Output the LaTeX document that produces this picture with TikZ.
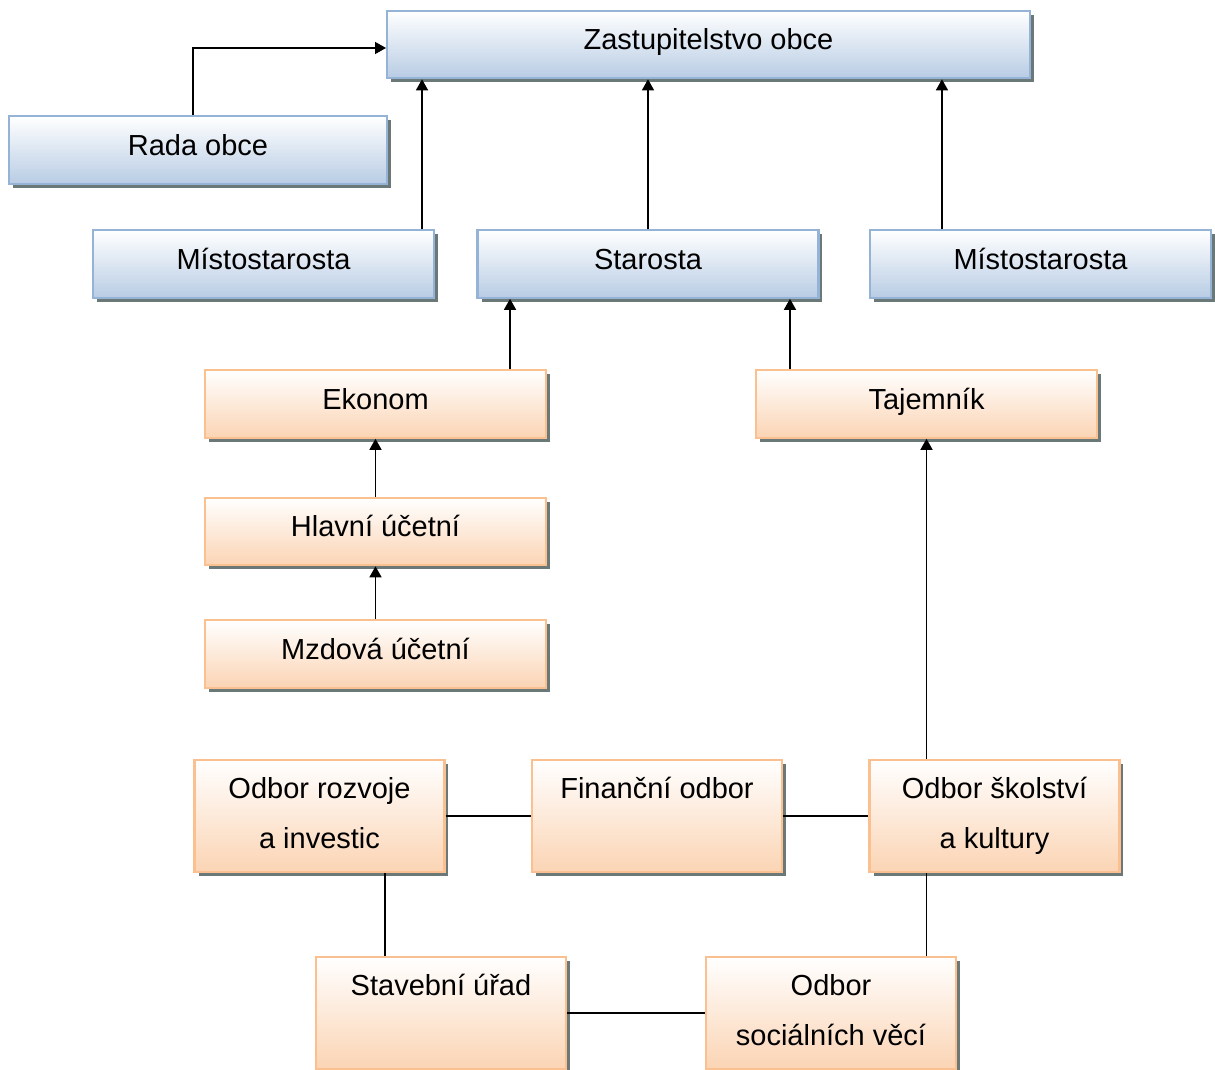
\documentclass[tikz,border=0pt]{standalone}
\usepackage{fontspec}
\setmainfont{Liberation Sans}
\usetikzlibrary{arrows.meta,shadows}
\definecolor{blueline}{HTML}{95B3D7}
\definecolor{bluefill}{HTML}{B8CCE4}
\definecolor{orangeline}{HTML}{FAC090}
\definecolor{orangefill}{HTML}{FBD4B4}
\definecolor{shadowgray}{rgb}{0.42,0.47,0.47}
\begin{document}
\begin{tikzpicture}[x=0.02cm, y=-0.02cm]

      \tikzset{box/.style={draw, line width=1.2pt, inner sep=0pt, align=center,
          font=\fontsize{16.5}{28.5}\selectfont,
          drop shadow={shadow xshift=0.08cm, shadow yshift=-0.08cm, fill=shadowgray, opacity=1}},
        bluebox/.style={box, draw=blueline, top color=white, bottom color=bluefill,
          minimum width=6.82cm, minimum height=1.35cm, text height=12pt, text depth=5.9pt},
        orangebox/.style={box, draw=orangeline, top color=white, bottom color=orangefill,
          minimum width=6.82cm, minimum height=1.35cm, text height=12pt, text depth=5.9pt},
        deptbox/.style={orangebox, minimum width=5cm, minimum height=2.24cm, text height=40.5pt, text depth=3.7pt}}
      \useasboundingbox (0,0) rectangle (1215,1070);
%% Boxes
      	\node[bluebox, minimum width=12.86cm] (zast) at (708.5,44.5) {Zastupitelstvo obce};
      	\node[bluebox, minimum width=7.56cm] (rada) at (198,150) {Rada obce};
      	\node[bluebox] (mist1) at (263.5,264) {Místostarosta};
      	\node[bluebox] (starosta) at (648,264) {Starosta};
      	\node[bluebox] (mist2) at (1040.5,264) {Místostarosta};
      	\node[orangebox] (ekonom) at (375.5,404) {Ekonom};
      	\node[orangebox] (tajemnik) at (926.5,404) {Tajemník};
      	\node[orangebox] (hlavni) at (375.5,531.5) {Hlavní účetní};
      	\node[orangebox] (mzdova) at (375.5,654) {Mzdová účetní};
      	\node[deptbox] (rozvoj) at (319.5,816) {Odbor rozvoje\\a investic};
      	\node[deptbox] (financni) at (657,816) {Finanční odbor\\\phantom{Ag}};
      	\node[deptbox] (skolstvi) at (994.5,816) {Odbor školství\\a kultury};
      	\node[deptbox] (stavebni) at (441,1013) {Stavební úřad\\\phantom{Ag}};
      	\node[deptbox] (socialni) at (831,1013) {Odbor\\sociálních věcí};
%Edges
		\draw [->, >={Triangle[length=0.22cm,width=0.24cm]}, line width=0.8pt]([xshift=-0.1cm]rada.north) |- ([yshift=-0.07cm]zast.west);
		\path [->, >={Triangle[length=0.22cm,width=0.24cm]}, line width=0.8pt]([xshift=-0.26cm]mist1.north east) edge ([xshift=-0.26cm]mist1.north east |- zast.south);
		\path [->, >={Triangle[length=0.22cm,width=0.24cm]}, line width=0.8pt](starosta.north) edge (starosta.north |- zast.south);
		\path [->, >={Triangle[length=0.22cm,width=0.24cm]}, line width=0.8pt]([xshift=1.46cm]mist2.north west) edge ([xshift=1.46cm]mist2.north west |- zast.south);
		\path [->, >={Triangle[length=0.22cm,width=0.24cm]}, line width=0.8pt]([xshift=-0.74cm]ekonom.north east) edge ([xshift=-0.74cm]ekonom.north east |- starosta.south);
		\path [->, >={Triangle[length=0.22cm,width=0.24cm]}, line width=0.8pt]([xshift=0.7cm]tajemnik.north west) edge ([xshift=0.7cm]tajemnik.north west |- starosta.south);
		\path [->, >={Triangle[length=0.22cm,width=0.24cm]}, line width=0.8pt](hlavni) edge (ekonom);
		\path [->, >={Triangle[length=0.22cm,width=0.24cm]}, line width=0.8pt](mzdova) edge (hlavni);
		\path [->, >={Triangle[length=0.22cm,width=0.24cm]}, line width=0.8pt](skolstvi.north -| tajemnik.south) edge (tajemnik.south);
		\path [line width=0.8pt](rozvoj) edge (financni);
		\path [line width=0.8pt](financni) edge (skolstvi);
		\path [line width=0.8pt]([xshift=1.4cm]stavebni.north west) edge ([xshift=1.4cm]stavebni.north west |- rozvoj.south);
		\path [line width=0.8pt](stavebni) edge (socialni);
		\path [line width=0.8pt](socialni.north -| tajemnik.south) edge (skolstvi.south -| tajemnik.south);

	\end{tikzpicture}
\end{document}
